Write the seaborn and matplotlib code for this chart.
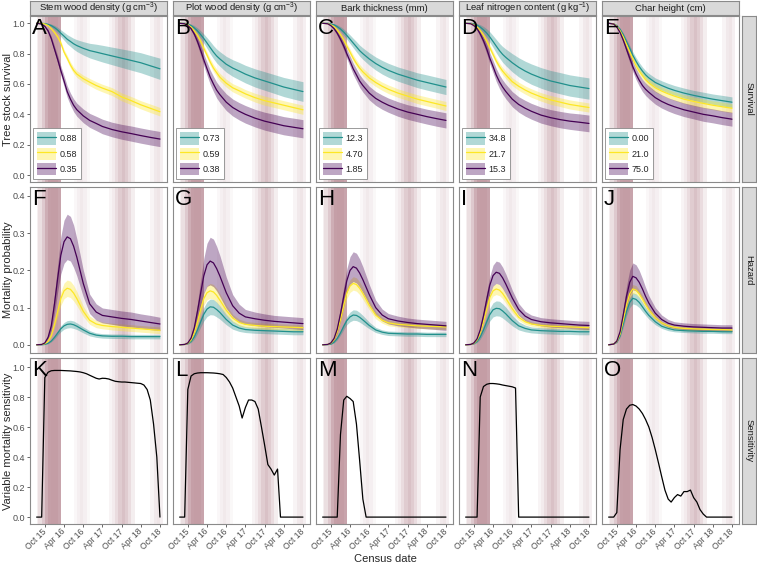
import pandas as pd
import seaborn as sns
import matplotlib.pyplot as plt
import matplotlib.dates as mdates
from matplotlib.patches import Patch
from matplotlib.lines import Line2D

# census dates of the modelled survival / hazard curves
curve_dates = ['2015-07-15', '2015-09-01', '2015-10-01', '2015-11-01', '2015-12-01',
               '2016-01-01', '2016-02-01', '2016-03-01', '2016-04-01', '2016-05-01',
               '2016-06-01', '2016-07-01', '2016-08-01', '2016-10-01', '2016-12-01',
               '2017-02-01', '2017-04-01', '2017-07-01', '2017-10-01', '2018-01-01',
               '2018-04-01', '2018-07-01', '2018-10-01']
# monthly dates of the sensitivity curves
sens_dates = ['2015-07-15'] + [d.strftime('%Y-%m-%d') for d in
                               pd.date_range('2015-09-01', '2018-10-01', freq='MS')]

variables = ['Stem wood density (g cm$^{-3}$)', 'Plot wood density (g cm$^{-3}$)',
             'Bark thickness (mm)', 'Leaf nitrogen content (g kg$^{-1}$)', 'Char height (cm)']
letters = [['A', 'B', 'C', 'D', 'E'], ['F', 'G', 'H', 'I', 'J'], ['K', 'L', 'M', 'N', 'O']]
row_names = ['Survival', 'Hazard', 'Sensitivity']
y_titles = ['Tree stock survival', 'Mortality probability', 'Variable mortality sensitivity']
level_colors = ['#21908C', '#FDE725', '#440154']

legend_stem = ['0.88', '0.58', '0.35']
legend_plot = ['0.73', '0.59', '0.38']
legend_bark = ['12.3', '4.70', '1.85']
legend_leaf = ['34.8', '21.7', '15.3']
legend_char = ['0.00', '21.0', '75.0']

# drought shading: month and relative intensity
band_month = ['2015-07-15', '2015-08-01', '2015-09-01', '2015-10-01', '2015-11-01', '2015-12-01',
              '2016-01-01', '2016-02-01', '2016-07-01', '2016-08-01', '2016-09-01', '2016-10-01',
              '2016-11-01', '2017-06-01', '2017-07-01', '2017-08-01', '2017-09-01', '2017-10-01',
              '2017-11-01', '2017-12-01', '2018-01-01', '2018-07-01', '2018-08-01', '2018-09-01',
              '2018-10-01']
band_level = [0.15, 0.3, 0.5, 0.75, 0.9, 0.92, 0.92, 0.85, 0.07, 0.14, 0.2, 0.14,
              0.06, 0.1, 0.18, 0.32, 0.48, 0.58, 0.48, 0.32, 0.16, 0.1, 0.2, 0.24, 0.14]

# ---- survival (mean, ci half width) ----
surv_stem_1 = [1.0, 1.0, 0.998, 0.993, 0.985, 0.972, 0.955, 0.935, 0.915, 0.895, 0.88, 0.865, 0.853, 0.835, 0.82, 0.81, 0.8, 0.785, 0.77, 0.755, 0.74, 0.72, 0.70]
surv_stem_1_ci = [0, 0.001, 0.003, 0.006, 0.01, 0.014, 0.018, 0.022, 0.026, 0.03, 0.033, 0.036, 0.039, 0.044, 0.048, 0.052, 0.055, 0.058, 0.061, 0.064, 0.066, 0.068, 0.07]
surv_stem_2 = [1.0, 1.0, 0.995, 0.985, 0.965, 0.94, 0.91, 0.87, 0.81, 0.77, 0.725, 0.69, 0.665, 0.635, 0.612, 0.59, 0.573, 0.55, 0.515, 0.49, 0.463, 0.44, 0.417]
surv_stem_2_ci = [0, 0.001, 0.003, 0.005, 0.008, 0.01, 0.013, 0.015, 0.017, 0.019, 0.02, 0.021, 0.022, 0.023, 0.024, 0.025, 0.025, 0.026, 0.026, 0.027, 0.027, 0.028, 0.028]
surv_stem_3 = [1.0, 0.995, 0.98, 0.95, 0.9, 0.83, 0.76, 0.69, 0.62, 0.55, 0.5, 0.46, 0.43, 0.39, 0.36, 0.34, 0.32, 0.3, 0.285, 0.273, 0.26, 0.248, 0.237]
surv_stem_3_ci = [0, 0.002, 0.005, 0.01, 0.015, 0.02, 0.025, 0.03, 0.035, 0.038, 0.04, 0.042, 0.043, 0.045, 0.046, 0.047, 0.048, 0.048, 0.049, 0.05, 0.05, 0.05, 0.05]

surv_plot_1 = [1.0, 1.0, 0.995, 0.985, 0.97, 0.95, 0.925, 0.9, 0.87, 0.84, 0.81, 0.785, 0.765, 0.73, 0.705, 0.685, 0.665, 0.64, 0.62, 0.6, 0.58, 0.565, 0.55]
surv_plot_1_ci = [0, 0.002, 0.005, 0.01, 0.015, 0.02, 0.025, 0.03, 0.035, 0.04, 0.043, 0.046, 0.048, 0.052, 0.055, 0.057, 0.058, 0.06, 0.061, 0.062, 0.063, 0.064, 0.065]
surv_plot_2 = [1.0, 0.998, 0.99, 0.975, 0.95, 0.92, 0.88, 0.835, 0.79, 0.745, 0.705, 0.675, 0.645, 0.605, 0.575, 0.555, 0.535, 0.51, 0.49, 0.475, 0.46, 0.445, 0.43]
surv_plot_2_ci = [0, 0.001, 0.003, 0.006, 0.009, 0.012, 0.015, 0.018, 0.02, 0.022, 0.023, 0.024, 0.025, 0.026, 0.027, 0.028, 0.028, 0.029, 0.03, 0.03, 0.03, 0.03, 0.03]
surv_plot_3 = [1.0, 0.997, 0.985, 0.965, 0.93, 0.88, 0.82, 0.76, 0.7, 0.645, 0.6, 0.56, 0.53, 0.48, 0.445, 0.42, 0.4, 0.375, 0.355, 0.34, 0.325, 0.315, 0.305]
surv_plot_3_ci = [0, 0.002, 0.006, 0.012, 0.018, 0.025, 0.032, 0.038, 0.043, 0.047, 0.05, 0.052, 0.053, 0.055, 0.056, 0.057, 0.058, 0.058, 0.059, 0.06, 0.06, 0.06, 0.06]

surv_bark_1 = [1.0, 1.0, 0.996, 0.99, 0.978, 0.962, 0.942, 0.92, 0.895, 0.87, 0.845, 0.82, 0.8, 0.765, 0.735, 0.71, 0.69, 0.665, 0.645, 0.625, 0.61, 0.595, 0.58]
surv_bark_1_ci = [0, 0.001, 0.004, 0.008, 0.012, 0.016, 0.02, 0.024, 0.028, 0.031, 0.034, 0.036, 0.038, 0.041, 0.043, 0.045, 0.046, 0.047, 0.048, 0.049, 0.05, 0.05, 0.05]
surv_bark_2 = [1.0, 0.998, 0.99, 0.977, 0.955, 0.925, 0.89, 0.85, 0.81, 0.77, 0.735, 0.705, 0.68, 0.64, 0.61, 0.585, 0.565, 0.54, 0.52, 0.5, 0.485, 0.47, 0.455]
surv_bark_2_ci = [0, 0.001, 0.003, 0.006, 0.009, 0.012, 0.015, 0.018, 0.02, 0.022, 0.023, 0.024, 0.025, 0.026, 0.027, 0.027, 0.028, 0.028, 0.028, 0.029, 0.029, 0.029, 0.03]
surv_bark_3 = [1.0, 0.997, 0.985, 0.965, 0.935, 0.895, 0.85, 0.8, 0.75, 0.7, 0.66, 0.62, 0.59, 0.54, 0.505, 0.48, 0.46, 0.435, 0.415, 0.4, 0.385, 0.372, 0.36]
surv_bark_3_ci = [0, 0.002, 0.005, 0.01, 0.015, 0.02, 0.026, 0.031, 0.035, 0.038, 0.04, 0.042, 0.043, 0.045, 0.046, 0.047, 0.047, 0.048, 0.048, 0.049, 0.049, 0.05, 0.05]

surv_leaf_1 = [1.0, 1.0, 0.996, 0.988, 0.975, 0.957, 0.935, 0.91, 0.88, 0.85, 0.82, 0.795, 0.775, 0.74, 0.71, 0.685, 0.665, 0.64, 0.62, 0.605, 0.59, 0.58, 0.57]
surv_leaf_1_ci = [0, 0.002, 0.005, 0.01, 0.016, 0.022, 0.028, 0.034, 0.039, 0.044, 0.048, 0.052, 0.055, 0.06, 0.063, 0.065, 0.067, 0.068, 0.069, 0.07, 0.07, 0.07, 0.07]
surv_leaf_2 = [1.0, 0.998, 0.99, 0.975, 0.952, 0.92, 0.882, 0.84, 0.795, 0.752, 0.715, 0.685, 0.66, 0.615, 0.585, 0.56, 0.54, 0.515, 0.495, 0.48, 0.465, 0.455, 0.445]
surv_leaf_2_ci = [0, 0.001, 0.003, 0.006, 0.009, 0.012, 0.015, 0.018, 0.02, 0.022, 0.023, 0.024, 0.025, 0.026, 0.027, 0.027, 0.028, 0.028, 0.029, 0.029, 0.03, 0.03, 0.03]
surv_leaf_3 = [1.0, 0.997, 0.986, 0.965, 0.93, 0.885, 0.83, 0.77, 0.715, 0.66, 0.615, 0.58, 0.55, 0.5, 0.465, 0.44, 0.42, 0.395, 0.378, 0.365, 0.355, 0.348, 0.34]
surv_leaf_3_ci = [0, 0.002, 0.006, 0.012, 0.018, 0.025, 0.031, 0.036, 0.04, 0.043, 0.045, 0.047, 0.048, 0.05, 0.051, 0.052, 0.052, 0.053, 0.053, 0.054, 0.054, 0.055, 0.055]

surv_char_1 = [1.0, 0.997, 0.985, 0.96, 0.925, 0.88, 0.835, 0.79, 0.75, 0.715, 0.685, 0.66, 0.64, 0.61, 0.59, 0.572, 0.558, 0.54, 0.525, 0.512, 0.5, 0.49, 0.48]
surv_char_1_ci = [0, 0.001, 0.004, 0.008, 0.012, 0.016, 0.019, 0.022, 0.024, 0.026, 0.027, 0.028, 0.029, 0.03, 0.031, 0.032, 0.032, 0.033, 0.033, 0.034, 0.034, 0.035, 0.035]
surv_char_2 = [1.0, 0.996, 0.98, 0.95, 0.91, 0.86, 0.81, 0.765, 0.72, 0.685, 0.655, 0.628, 0.607, 0.575, 0.553, 0.535, 0.52, 0.5, 0.485, 0.472, 0.46, 0.45, 0.44]
surv_char_2_ci = [0, 0.001, 0.004, 0.008, 0.012, 0.015, 0.018, 0.02, 0.022, 0.023, 0.024, 0.025, 0.026, 0.027, 0.027, 0.028, 0.028, 0.028, 0.029, 0.029, 0.029, 0.03, 0.03]
surv_char_3 = [1.0, 0.995, 0.975, 0.94, 0.89, 0.83, 0.77, 0.715, 0.665, 0.625, 0.59, 0.565, 0.545, 0.51, 0.485, 0.465, 0.45, 0.43, 0.415, 0.4, 0.39, 0.378, 0.368]
surv_char_3_ci = [0, 0.002, 0.006, 0.012, 0.018, 0.024, 0.029, 0.033, 0.036, 0.038, 0.04, 0.041, 0.042, 0.043, 0.044, 0.044, 0.045, 0.045, 0.045, 0.046, 0.046, 0.046, 0.046]

# ---- hazard (mean, ci half width) ----
haz_stem_1 = [0, 0, 0.001, 0.004, 0.01, 0.02, 0.032, 0.043, 0.051, 0.055, 0.056, 0.054, 0.05, 0.04, 0.031, 0.026, 0.024, 0.023, 0.023, 0.022, 0.022, 0.022, 0.022]
haz_stem_1_ci = [0, 0, 0, 0.001, 0.002, 0.004, 0.006, 0.008, 0.009, 0.01, 0.01, 0.01, 0.009, 0.008, 0.007, 0.006, 0.006, 0.006, 0.006, 0.006, 0.006, 0.006, 0.006]
haz_stem_2 = [0, 0.001, 0.003, 0.01, 0.025, 0.055, 0.09, 0.124, 0.145, 0.152, 0.149, 0.139, 0.124, 0.09, 0.066, 0.056, 0.052, 0.049, 0.047, 0.045, 0.043, 0.041, 0.039]
haz_stem_2_ci = [0, 0, 0.001, 0.002, 0.005, 0.009, 0.014, 0.018, 0.021, 0.022, 0.022, 0.021, 0.019, 0.014, 0.011, 0.01, 0.009, 0.009, 0.009, 0.009, 0.009, 0.009, 0.009]
haz_stem_3 = [0, 0.001, 0.005, 0.02, 0.05, 0.11, 0.18, 0.24, 0.277, 0.29, 0.285, 0.265, 0.235, 0.165, 0.11, 0.088, 0.079, 0.075, 0.071, 0.068, 0.064, 0.06, 0.056]
haz_stem_3_ci = [0, 0, 0.002, 0.006, 0.013, 0.025, 0.037, 0.05, 0.058, 0.061, 0.06, 0.057, 0.05, 0.036, 0.026, 0.022, 0.02, 0.02, 0.02, 0.02, 0.019, 0.019, 0.018]

haz_plot_1 = [0, 0.001, 0.003, 0.009, 0.021, 0.04, 0.062, 0.082, 0.096, 0.102, 0.101, 0.095, 0.087, 0.068, 0.053, 0.045, 0.041, 0.039, 0.038, 0.037, 0.036, 0.035, 0.035]
haz_plot_1_ci = [0, 0, 0.001, 0.003, 0.006, 0.01, 0.014, 0.018, 0.02, 0.021, 0.021, 0.02, 0.018, 0.014, 0.011, 0.009, 0.008, 0.008, 0.008, 0.008, 0.008, 0.008, 0.008]
haz_plot_2 = [0, 0.001, 0.004, 0.013, 0.032, 0.062, 0.096, 0.124, 0.14, 0.145, 0.142, 0.133, 0.12, 0.093, 0.072, 0.06, 0.055, 0.052, 0.05, 0.049, 0.048, 0.047, 0.046]
haz_plot_2_ci = [0, 0, 0.001, 0.003, 0.006, 0.01, 0.014, 0.017, 0.019, 0.02, 0.02, 0.019, 0.017, 0.013, 0.01, 0.009, 0.008, 0.008, 0.008, 0.008, 0.008, 0.008, 0.008]
haz_plot_3 = [0, 0.001, 0.005, 0.018, 0.045, 0.09, 0.14, 0.185, 0.215, 0.225, 0.22, 0.205, 0.185, 0.14, 0.105, 0.085, 0.075, 0.07, 0.066, 0.063, 0.061, 0.059, 0.057]
haz_plot_3_ci = [0, 0, 0.002, 0.006, 0.012, 0.022, 0.035, 0.047, 0.058, 0.064, 0.064, 0.06, 0.055, 0.042, 0.03, 0.024, 0.02, 0.018, 0.017, 0.016, 0.016, 0.016, 0.016]

haz_bark_1 = [0, 0.0005, 0.002, 0.007, 0.017, 0.032, 0.05, 0.065, 0.075, 0.08, 0.079, 0.074, 0.067, 0.052, 0.04, 0.034, 0.031, 0.03, 0.029, 0.029, 0.028, 0.028, 0.028]
haz_bark_1_ci = [0, 0, 0.001, 0.002, 0.004, 0.006, 0.009, 0.011, 0.013, 0.014, 0.014, 0.013, 0.012, 0.009, 0.007, 0.006, 0.006, 0.006, 0.006, 0.006, 0.006, 0.006, 0.006]
haz_bark_2 = [0, 0.001, 0.004, 0.014, 0.035, 0.068, 0.106, 0.139, 0.158, 0.165, 0.162, 0.152, 0.138, 0.106, 0.08, 0.066, 0.059, 0.055, 0.053, 0.051, 0.05, 0.049, 0.048]
haz_bark_2_ci = [0, 0, 0.001, 0.003, 0.006, 0.009, 0.012, 0.015, 0.017, 0.018, 0.018, 0.017, 0.016, 0.012, 0.01, 0.008, 0.008, 0.007, 0.007, 0.007, 0.007, 0.007, 0.007]
haz_bark_3 = [0, 0.001, 0.005, 0.017, 0.042, 0.083, 0.13, 0.172, 0.2, 0.21, 0.206, 0.193, 0.175, 0.135, 0.1, 0.08, 0.07, 0.064, 0.06, 0.057, 0.055, 0.053, 0.051]
haz_bark_3_ci = [0, 0, 0.002, 0.005, 0.01, 0.017, 0.025, 0.032, 0.037, 0.04, 0.04, 0.038, 0.035, 0.027, 0.02, 0.016, 0.014, 0.013, 0.012, 0.012, 0.012, 0.012, 0.012]

haz_leaf_1 = [0, 0.001, 0.003, 0.009, 0.021, 0.04, 0.062, 0.081, 0.094, 0.098, 0.097, 0.091, 0.083, 0.065, 0.051, 0.044, 0.04, 0.038, 0.037, 0.036, 0.036, 0.035, 0.035]
haz_leaf_1_ci = [0, 0, 0.001, 0.003, 0.006, 0.01, 0.014, 0.017, 0.019, 0.02, 0.02, 0.019, 0.018, 0.014, 0.011, 0.009, 0.008, 0.008, 0.008, 0.008, 0.008, 0.008, 0.008]
haz_leaf_2 = [0, 0.001, 0.004, 0.013, 0.032, 0.062, 0.097, 0.127, 0.145, 0.15, 0.147, 0.138, 0.125, 0.097, 0.074, 0.062, 0.056, 0.052, 0.05, 0.049, 0.048, 0.047, 0.046]
haz_leaf_2_ci = [0, 0, 0.001, 0.002, 0.004, 0.007, 0.01, 0.012, 0.014, 0.015, 0.015, 0.014, 0.013, 0.01, 0.008, 0.007, 0.006, 0.006, 0.006, 0.006, 0.006, 0.006, 0.006]
haz_leaf_3 = [0, 0.001, 0.005, 0.016, 0.04, 0.078, 0.122, 0.16, 0.186, 0.195, 0.192, 0.18, 0.163, 0.126, 0.095, 0.077, 0.068, 0.062, 0.059, 0.057, 0.055, 0.053, 0.052]
haz_leaf_3_ci = [0, 0, 0.002, 0.004, 0.008, 0.013, 0.019, 0.024, 0.028, 0.03, 0.03, 0.029, 0.027, 0.021, 0.016, 0.013, 0.012, 0.011, 0.011, 0.011, 0.011, 0.011, 0.011]

haz_char_1 = [0, 0.002, 0.007, 0.024, 0.055, 0.089, 0.114, 0.125, 0.122, 0.114, 0.102, 0.09, 0.079, 0.062, 0.05, 0.044, 0.04, 0.038, 0.037, 0.036, 0.036, 0.035, 0.035]
haz_char_1_ci = [0, 0, 0.001, 0.004, 0.008, 0.011, 0.014, 0.015, 0.015, 0.014, 0.013, 0.011, 0.01, 0.008, 0.006, 0.006, 0.005, 0.005, 0.005, 0.005, 0.005, 0.005, 0.005]
haz_char_2 = [0, 0.002, 0.009, 0.029, 0.066, 0.107, 0.137, 0.15, 0.147, 0.137, 0.123, 0.108, 0.094, 0.073, 0.059, 0.051, 0.047, 0.044, 0.043, 0.042, 0.041, 0.041, 0.04]
haz_char_2_ci = [0, 0, 0.001, 0.003, 0.006, 0.009, 0.011, 0.012, 0.012, 0.011, 0.01, 0.009, 0.008, 0.006, 0.005, 0.005, 0.005, 0.005, 0.005, 0.005, 0.005, 0.005, 0.005]
haz_char_3 = [0, 0.002, 0.01, 0.035, 0.08, 0.13, 0.168, 0.184, 0.18, 0.168, 0.15, 0.13, 0.112, 0.085, 0.068, 0.058, 0.053, 0.05, 0.048, 0.047, 0.046, 0.045, 0.045]
haz_char_3_ci = [0, 0, 0.003, 0.009, 0.018, 0.027, 0.033, 0.036, 0.035, 0.032, 0.028, 0.024, 0.02, 0.015, 0.012, 0.01, 0.009, 0.009, 0.009, 0.009, 0.009, 0.009, 0.009]

# ---- variable mortality sensitivity ----
sens_stem = [0, 0, 0.93, 0.965, 0.975, 0.977, 0.977, 0.977, 0.976, 0.975, 0.974, 0.972, 0.97, 0.967, 0.962, 0.955, 0.945, 0.935, 0.925, 0.92,
             0.925, 0.924, 0.92, 0.912, 0.905, 0.902, 0.9, 0.9, 0.898, 0.896, 0.894, 0.892, 0.89, 0.88, 0.85, 0.78, 0.62, 0.4, 0.0]
sens_plot = [0, 0, 0.85, 0.94, 0.955, 0.96, 0.962, 0.962, 0.962, 0.961, 0.96, 0.958, 0.955, 0.95, 0.93, 0.9, 0.86, 0.8, 0.74, 0.66,
             0.73, 0.78, 0.78, 0.77, 0.72, 0.6, 0.48, 0.35, 0.32, 0.28, 0.32, 0, 0, 0, 0, 0, 0, 0, 0]
sens_bark = [0, 0, 0, 0, 0, 0.55, 0.78, 0.805, 0.79, 0.77, 0.62, 0.38, 0.12, 0, 0, 0, 0, 0, 0, 0,
             0, 0, 0, 0, 0, 0, 0, 0, 0, 0, 0, 0, 0, 0, 0, 0, 0, 0, 0]
sens_leaf = [0, 0, 0, 0, 0.8, 0.87, 0.885, 0.89, 0.89, 0.888, 0.885, 0.88, 0.876, 0.872, 0.868, 0.86, 0, 0, 0, 0,
             0, 0, 0, 0, 0, 0, 0, 0, 0, 0, 0, 0, 0, 0, 0, 0, 0, 0, 0]
sens_char = [0, 0, 0.03, 0.45, 0.65, 0.72, 0.745, 0.75, 0.74, 0.72, 0.69, 0.65, 0.6, 0.53, 0.45, 0.36, 0.27, 0.18, 0.12, 0.1,
             0.13, 0.15, 0.14, 0.17, 0.17, 0.18, 0.13, 0.1, 0.05, 0.02, 0, 0, 0, 0, 0, 0, 0, 0, 0]

survival = [
    [(surv_stem_1, surv_stem_1_ci), (surv_stem_2, surv_stem_2_ci), (surv_stem_3, surv_stem_3_ci)],
    [(surv_plot_1, surv_plot_1_ci), (surv_plot_2, surv_plot_2_ci), (surv_plot_3, surv_plot_3_ci)],
    [(surv_bark_1, surv_bark_1_ci), (surv_bark_2, surv_bark_2_ci), (surv_bark_3, surv_bark_3_ci)],
    [(surv_leaf_1, surv_leaf_1_ci), (surv_leaf_2, surv_leaf_2_ci), (surv_leaf_3, surv_leaf_3_ci)],
    [(surv_char_1, surv_char_1_ci), (surv_char_2, surv_char_2_ci), (surv_char_3, surv_char_3_ci)],
]
hazard = [
    [(haz_stem_1, haz_stem_1_ci), (haz_stem_2, haz_stem_2_ci), (haz_stem_3, haz_stem_3_ci)],
    [(haz_plot_1, haz_plot_1_ci), (haz_plot_2, haz_plot_2_ci), (haz_plot_3, haz_plot_3_ci)],
    [(haz_bark_1, haz_bark_1_ci), (haz_bark_2, haz_bark_2_ci), (haz_bark_3, haz_bark_3_ci)],
    [(haz_leaf_1, haz_leaf_1_ci), (haz_leaf_2, haz_leaf_2_ci), (haz_leaf_3, haz_leaf_3_ci)],
    [(haz_char_1, haz_char_1_ci), (haz_char_2, haz_char_2_ci), (haz_char_3, haz_char_3_ci)],
]
sensitivity = [sens_stem, sens_plot, sens_bark, sens_leaf, sens_char]
legends = [legend_stem, legend_plot, legend_bark, legend_leaf, legend_char]


def curve_frame(series, labels):
    """Long table of the three levels of one panel"""
    parts = []
    for (mean, ci), lab in zip(series, labels):
        parts.append(pd.DataFrame({'date': pd.to_datetime(curve_dates), 'value': mean,
                                   'ci': ci, 'level': lab}))
    return pd.concat(parts, ignore_index=True)


sns.set_theme(style='white')
plt.rcParams['font.family'] = ['Liberation Sans', 'DejaVu Sans']
plt.rcParams['mathtext.default'] = 'regular'

W, H = 757, 565
fig = plt.figure(figsize=(W / 100, H / 100), dpi=100)


def box(x, y, w, h):
    return [x / W, 1 - (y + h) / H, w / W, h / H]


col_left = [30, 173, 316, 459, 602]
row_top = [16, 187, 358]
pw, ph = 137, 166
ylims = [(-0.046, 1.048), (-0.022, 0.424), (-0.046, 1.06)]
yticks = [[0, 0.2, 0.4, 0.6, 0.8, 1.0], [0, 0.1, 0.2, 0.3, 0.4], [0, 0.2, 0.4, 0.6, 0.8, 1.0]]
xmin, xmax = pd.Timestamp('2015-05-13'), pd.Timestamp('2018-12-07')
edge = '#8a8a8a'
band_color = '#7f2a3c'

for r in range(3):
    for c in range(5):
        ax = fig.add_axes(box(col_left[c], row_top[r], pw, ph))
        ax.set_facecolor('white')

        # shaded drought months
        for m, lvl in zip(band_month, band_level):
            start = pd.Timestamp(m)
            end = start + pd.offsets.MonthBegin(1)
            ax.axvspan(start, end, color=band_color, alpha=lvl * 0.5, lw=0, zorder=0)

        if r < 2:
            data = survival if r == 0 else hazard
            df = curve_frame(data[c], legends[c])
            pal = dict(zip(legends[c], level_colors))
            for lab in legends[c]:
                d = df[df['level'] == lab]
                ax.fill_between(d['date'], d['value'] - d['ci'], d['value'] + d['ci'],
                                color=pal[lab], alpha=0.35, lw=0, zorder=1)
            sns.lineplot(data=df, x='date', y='value', hue='level', palette=pal,
                         hue_order=legends[c], ax=ax, legend=False, linewidth=0.9,
                         estimator=None, zorder=2)
            if r == 0:
                handles = [(Patch(facecolor=col, alpha=0.35, edgecolor='none'),
                            Line2D([], [], color=col, lw=0.9)) for col in level_colors]
                leg = ax.legend(handles, legends[c], loc='lower left', fontsize=6.5,
                                frameon=True, fancybox=False, edgecolor=edge, framealpha=1,
                                handlelength=2.1, handleheight=1.7, labelspacing=0.35,
                                borderpad=0.45, handletextpad=0.4, borderaxespad=0.3)
                leg.get_frame().set_linewidth(0.6)
        else:
            sdf = pd.DataFrame({'date': pd.to_datetime(sens_dates), 'value': sensitivity[c]})
            sns.lineplot(data=sdf, x='date', y='value', color='black', ax=ax,
                         linewidth=0.9, estimator=None, zorder=2)

        ax.set_xlim(xmin, xmax)
        ax.set_ylim(*ylims[r])
        ax.set_xlabel('')
        ax.set_ylabel('')
        ax.set_yticks(yticks[r])
        ax.set_yticklabels(['%.1f' % v for v in yticks[r]])
        ax.xaxis.set_major_locator(mdates.MonthLocator(bymonth=[4, 10]))
        ax.xaxis.set_major_formatter(mdates.DateFormatter('%b %y'))
        ax.tick_params(axis='both', length=2.5, width=0.6, color='#4d4d4d',
                       labelsize=6.5, labelcolor='#4d4d4d', pad=1.2,
                       bottom=(r == 2), left=(c == 0),
                       labelbottom=(r == 2), labelleft=(c == 0))
        if r == 2:
            ax.tick_params(axis='x', labelsize=6.2, pad=2.0)
            for lab in ax.get_xticklabels():
                lab.set_rotation(45)
                lab.set_ha('right')
                lab.set_va('center')
                lab.set_rotation_mode('anchor')
        for s in ax.spines.values():
            s.set_color(edge)
            s.set_linewidth(0.8)
        ax.text(0.015, 0.99, letters[r][c], transform=ax.transAxes, fontsize=16,
                va='top', ha='left', color='black', zorder=5)

# facet strips
for c in range(5):
    sax = fig.add_axes(box(col_left[c], 1, pw, 14))
    sax.set_facecolor('#d9d9d9')
    sax.set_xticks([])
    sax.set_yticks([])
    for s in sax.spines.values():
        s.set_color(edge)
        s.set_linewidth(0.8)
    sax.text(0.5, 0.45, variables[c], transform=sax.transAxes, ha='center', va='center',
             fontsize=6.8, color='#1a1a1a')
for r in range(3):
    sax = fig.add_axes(box(742, row_top[r], 14, ph))
    sax.set_facecolor('#d9d9d9')
    sax.set_xticks([])
    sax.set_yticks([])
    for s in sax.spines.values():
        s.set_color(edge)
        s.set_linewidth(0.8)
    sax.text(0.5, 0.5, row_names[r], transform=sax.transAxes, ha='center', va='center',
             rotation=-90, fontsize=6.8, color='#1a1a1a')
    fig.text(8 / W, 1 - (row_top[r] + ph / 2) / H, y_titles[r], rotation=90,
             ha='center', va='center', fontsize=8)

fig.text(385 / W, 1 - 559 / H, 'Census date', ha='center', va='center', fontsize=8)

fig.savefig('out.png', dpi=100)
